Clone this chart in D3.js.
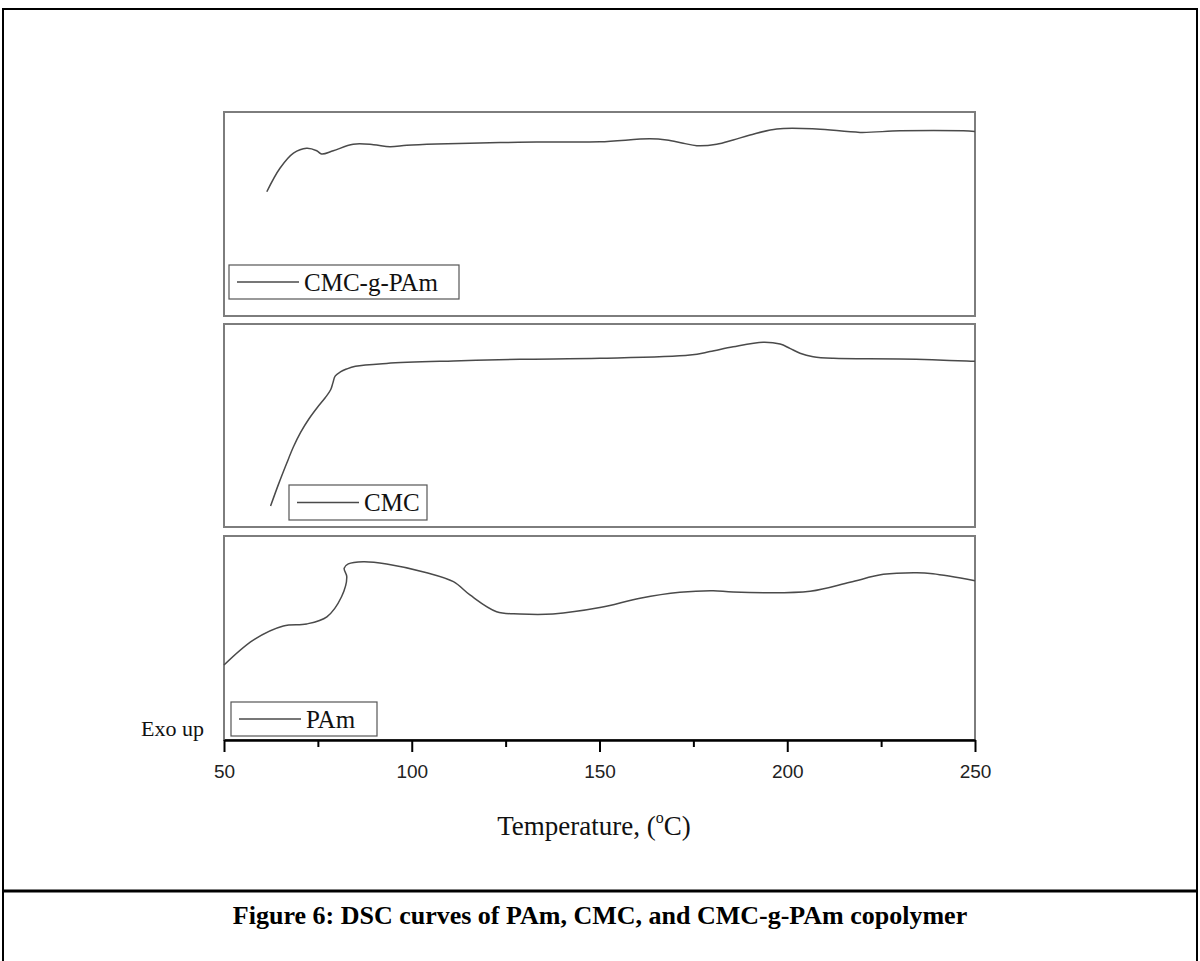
<!DOCTYPE html>
<html>
<head>
<meta charset="utf-8">
<script src="https://cdn.jsdelivr.net/npm/d3@7"></script>
<style>
  body { margin: 0; background: #fff; }
  svg { display: block; }
</style>
</head>
<body>
<svg id="chart" width="1200" height="961"></svg>
<script>
// temperature axis
const xTicks = [50, 100, 150, 200, 250];
const xMinorTicks = [75, 125, 175, 225];

// CMC-g-PAm (top panel), heat flow in arbitrary units
const graftT = [61.4, 64.9, 68.5, 72.0, 74.7, 76.0, 79.1, 84.4, 89.8, 94.2, 98.7, 106.6, 123.5, 133.3, 150.1,
  163.4, 167.9, 172.3, 175.9, 181.2, 185.6, 190.1, 197.2, 207.8, 219.4, 230.0, 246.9, 250];
const graftHF = [60.9, 72.4, 79.8, 82.2, 81.0, 79.4, 81.0, 84.2, 84.0, 83.0, 83.7, 84.3, 85.0, 85.3, 85.4,
  86.9, 86.3, 84.7, 83.5, 84.2, 86.3, 88.7, 91.7, 91.7, 90.0, 90.8, 90.8, 90.5];

// CMC (middle panel)
const cmcT = [62.4, 64.5, 66.7, 68.5, 70.4, 72.6, 74.9, 77.0, 78.4, 79.0, 79.6, 81.0, 82.6, 85.0, 93.3, 111.1, 128.8, 150.1,
  174.1, 179.4, 185.6, 193.6, 198.1, 200.7, 203.4, 206.9, 212.3, 230.0, 247.8, 250];
const cmcHF = [10.3, 21.0, 31.4, 39.5, 46.6, 53.2, 59.0, 63.8, 67.6, 71.0, 74.3, 76.4, 77.8, 79.2, 80.6, 81.8, 82.6, 83.1,
  84.7, 86.4, 88.8, 91.0, 90.1, 88.0, 85.6, 83.9, 83.1, 82.8, 81.8, 81.6];

// PAm (bottom panel)
const pamT = [50, 57.8, 65.8, 72.0, 77.4, 81.3, 82.7, 82.0, 83.1, 87.1, 93.3, 104.0, 111.1, 115.5, 122.6,
  128.8, 137.6, 150.1, 160.8, 171.4, 180.3, 185.6, 206.1, 216.7, 225.6, 234.5, 238.8, 250];
const pamHF = [36.8, 49.0, 55.9, 56.9, 60.4, 70.2, 80.0, 84.2, 86.3, 87.4, 86.3, 82.0, 77.6, 71.1, 62.9,
  61.8, 61.8, 64.9, 69.5, 72.4, 73.2, 72.5, 72.9, 77.3, 81.2, 82.0, 81.5, 78.1];

const seriesNames = ['CMC-g-PAm', 'CMC', 'PAm'];

let svg = d3.select('#chart');
let left = 224, right = 975;

// page frame
svg.append('rect')
  .attr('width', 1200).attr('height', 961).attr('fill', '#fff');
svg.append('path')
  .attr('d', 'M3,975V9H1197V975')
  .attr('fill', 'none').attr('stroke', '#000').attr('stroke-width', 2);
svg.append('line')
  .attr('x1', 3).attr('x2', 1197).attr('y1', 891).attr('y2', 891)
  .attr('stroke', '#000').attr('stroke-width', 3);

let x = d3.scaleLinear().domain([50, 250]).range([left, right]);

let panels = [
  { top: 112, bottom: 316, t: graftT, hf: graftHF, legend: { x: 229, y: 265, w: 230, h: 34, line: 62 } },
  { top: 324, bottom: 527, t: cmcT, hf: cmcHF, legend: { x: 289, y: 485, w: 138, h: 35, line: 62 } },
  { top: 536, bottom: 740, t: pamT, hf: pamHF, legend: { x: 231, y: 702, w: 146, h: 34, line: 62 } }
];

panels.forEach((p, i) => {
  let y = d3.scaleLinear().domain([0, 100]).range([p.bottom, p.top]);
  let g = svg.append('g');

  g.append('rect')
    .attr('x', left).attr('y', p.top)
    .attr('width', right - left).attr('height', p.bottom - p.top)
    .attr('fill', 'none').attr('stroke', '#7d7d7d').attr('stroke-width', 2);

  let line = d3.line()
    .x(d => x(d[0]))
    .y(d => y(d[1]))
    .curve(d3.curveCatmullRom.alpha(0.5));

  g.append('path')
    .datum(d3.zip(p.t, p.hf))
    .attr('d', line)
    .attr('fill', 'none')
    .attr('stroke', '#4a4a4a')
    .attr('stroke-width', 1.5);

  let lg = p.legend;
  g.append('rect')
    .attr('x', lg.x).attr('y', lg.y)
    .attr('width', lg.w).attr('height', lg.h)
    .attr('fill', '#fff').attr('stroke', '#555').attr('stroke-width', 1.2);
  g.append('line')
    .attr('x1', lg.x + 8).attr('x2', lg.x + 8 + lg.line)
    .attr('y1', lg.y + lg.h / 2).attr('y2', lg.y + lg.h / 2)
    .attr('stroke', '#4a4a4a').attr('stroke-width', 1.4);
  g.append('text')
    .attr('x', lg.x + 13 + lg.line)
    .attr('y', lg.y + lg.h / 2 + 8.5)
    .attr('font-family', '"Liberation Serif", "Times New Roman", serif')
    .attr('font-size', 25)
    .attr('fill', '#111')
    .text(seriesNames[i]);
});

// x axis
let axis = svg.append('g')
  .attr('transform', 'translate(0,740)')
  .call(d3.axisBottom(x).tickValues(xTicks).tickSize(12).tickSizeOuter(0).tickPadding(13));
axis.select('.domain').attr('stroke-width', 2.5);
axis.selectAll('.tick line').attr('stroke-width', 2);
axis.selectAll('.tick text')
  .attr('font-family', '"Liberation Sans", Arial, sans-serif')
  .attr('font-size', 19)
  .attr('fill', '#222');

svg.append('g')
  .attr('transform', 'translate(0,740)')
  .call(d3.axisBottom(x).tickValues(xMinorTicks).tickSize(7).tickSizeOuter(0).tickFormat(''))
  .call(s => s.select('.domain').remove())
  .selectAll('.tick line').attr('stroke-width', 2);

// labels
svg.append('text')
  .attr('x', 141).attr('y', 736)
  .attr('font-family', '"Liberation Serif", "Times New Roman", serif')
  .attr('font-size', 22)
  .attr('fill', '#111')
  .text('Exo up');

let xLabel = svg.append('text')
  .attr('x', 594).attr('y', 835)
  .attr('text-anchor', 'middle')
  .attr('font-family', '"Liberation Serif", "Times New Roman", serif')
  .attr('font-size', 27)
  .attr('fill', '#111');
xLabel.append('tspan').text('Temperature, (');
xLabel.append('tspan').attr('dy', -12).attr('font-size', 16).text('o');
xLabel.append('tspan').attr('dy', 12).text('C)');

svg.append('text')
  .attr('x', 600).attr('y', 924)
  .attr('text-anchor', 'middle')
  .attr('font-family', '"Liberation Serif", "Times New Roman", serif')
  .attr('font-weight', 'bold')
  .attr('font-size', 26)
  .attr('fill', '#000')
  .text('Figure 6: DSC curves of PAm, CMC, and CMC-g-PAm copolymer');
</script>
</body>
</html>
